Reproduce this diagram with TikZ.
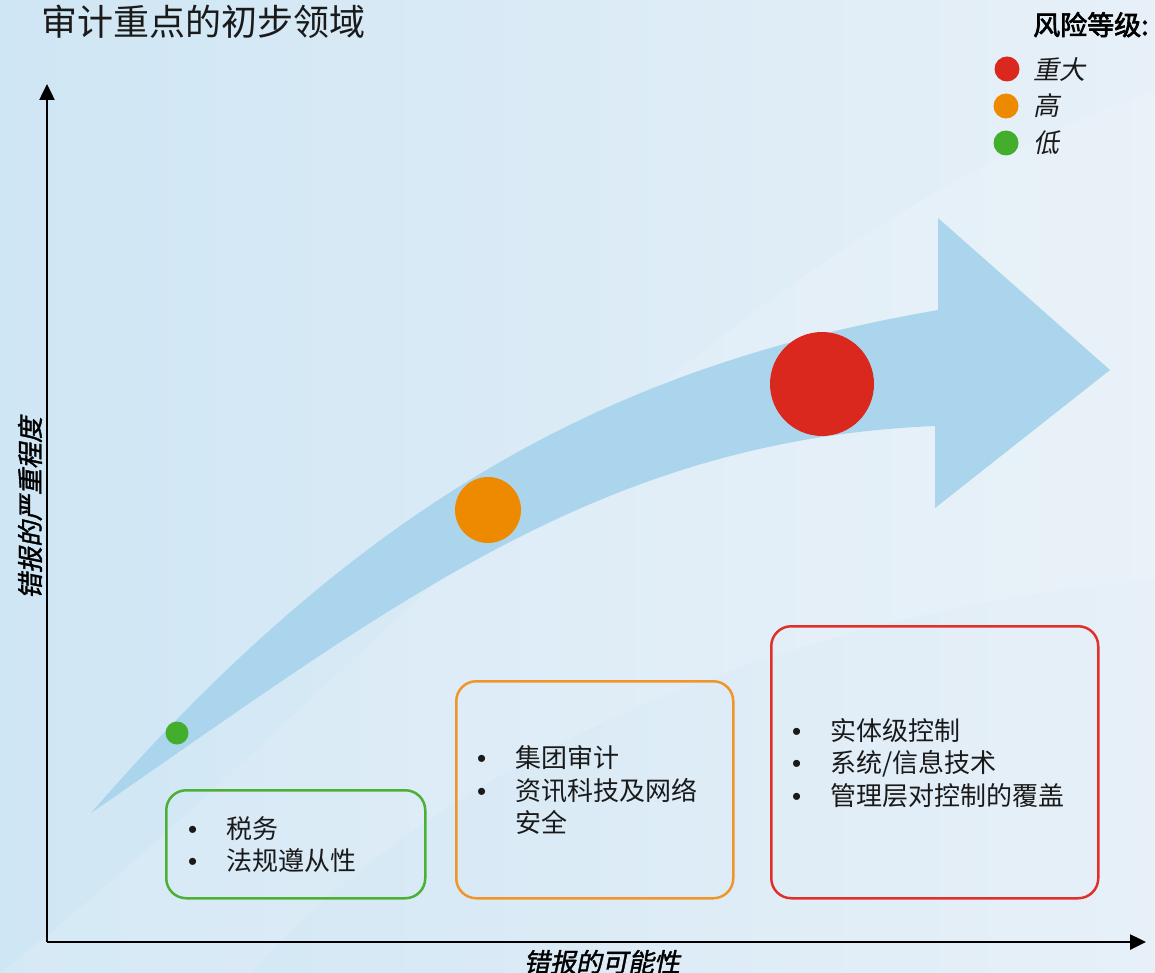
\documentclass[tikz,border=0pt]{standalone}
\usepackage{fontspec}
\setmainfont{Noto Sans CJK SC}
\newfontfamily\slantfont[FakeSlant=0.2]{Noto Sans CJK SC}
\newfontfamily\heavyfont[FakeBold=2.5]{Noto Sans CJK SC}
\newfontfamily\axisfont[FakeSlant=0.2,FakeBold=1.5]{Noto Sans CJK SC}
\newfontfamily\bulletfont{Liberation Sans}
\newcommand{\riskbullet}{\makebox[38pt][l]{\bulletfont •}}
\usetikzlibrary{arrows.meta}
\definecolor{bgleft}{RGB}{207,230,244}
\definecolor{bgright}{RGB}{231,240,248}
\definecolor{arrowblue}{RGB}{171,213,237}
\definecolor{riskred}{RGB}{218,40,30}
\definecolor{riskorange}{RGB}{238,138,0}
\definecolor{riskgreen}{RGB}{66,174,44}
\definecolor{boxred}{RGB}{224,48,42}
\definecolor{boxorange}{RGB}{240,150,40}
\definecolor{boxgreen}{RGB}{76,176,52}
\definecolor{textdark}{RGB}{26,26,26}
\tikzset{
  riskdot/.style={circle,fill=#1,inner sep=0pt},
  areabox/.style={draw=#1,line width=2.5pt,rounded corners=20pt,anchor=north west,inner sep=0pt},
  areaitem/.style={anchor=base west,inner sep=0pt,text=textdark,font=\fontsize{26}{32}\selectfont},
  keytext/.style={anchor=base west,inner sep=0pt,text=textdark,font=\slantfont\fontsize{26}{30}\selectfont},
  axislabel/.style={inner sep=0pt,text=black,font=\axisfont\fontsize{26}{30}\selectfont},
  axisline/.style={line width=2.5pt,-{Triangle[width=15pt,length=16pt]}},
}
\begin{document}
\begin{tikzpicture}[x=1pt,y=-1pt]
  \fill[left color=bgleft,right color=bgright] (0,0) rectangle (1155,973);
  \useasboundingbox (0,0) rectangle (1155,973);
  \fill[white,opacity=0.13] (0,973) .. controls (350,700) and (700,250) .. (1155,90)
    -- (1155,580) .. controls (900,600) and (500,700) .. (250,973) -- cycle;

  \fill[arrowblue] (91,813) .. controls (380,480) and (638,362) .. (938,310)
    -- (938,218) -- (1110,370) -- (935,508) -- (935,426)
    .. controls (600,440) and (391,606) .. (91,813) -- cycle;

  \node[riskdot=riskgreen,minimum size=23pt] (low) at (177,733) {};
  \node[riskdot=riskorange,minimum size=66pt] (mid) at (488,510) {};
  \node[riskdot=riskred,minimum size=104pt] (high) at (822,384) {};

  \node[anchor=base west,inner sep=0pt,text=textdark,font=\fontsize{36}{40}\selectfont] (title) at (41,36) {审计重点的初步领域};

  \node[anchor=base west,inner sep=0pt,text=black,font=\heavyfont\fontsize{27}{30}\selectfont] (key) at (1033,35) {风险等级:};
  \node[riskdot=riskred,minimum size=25pt] (keyhigh) at (1007,69) {};
  \node[riskdot=riskorange,minimum size=25pt] (keymid) at (1006,106) {};
  \node[riskdot=riskgreen,minimum size=25pt] (keylow) at (1006,143) {};
  \node[keytext] (keyhightxt) at (1033,80) {重大};
  \node[keytext] (keymidtxt) at (1033,116) {高};
  \node[keytext] (keylowtxt) at (1033,153) {低};

  \node[areabox=boxgreen,minimum width=259pt,minimum height=108pt] (lowbox) at (165,789) {};
  \node[areaitem] (low1) at (188,838) {\riskbullet 税务};
  \node[areaitem] (low2) at (188,870) {\riskbullet 法规遵从性};

  \node[areabox=boxorange,minimum width=277pt,minimum height=217pt] (midbox) at (455,680) {};
  \node[areaitem] (mid1) at (477,767) {\riskbullet 集团审计};
  \node[areaitem] (mid2) at (477,800) {\riskbullet 资讯科技及网络};
  \node[areaitem] (mid3) at (477,832) {\makebox[38pt][l]{}安全};

  \node[areabox=boxred,minimum width=327pt,minimum height=272pt] (highbox) at (770,625) {};
  \node[areaitem] (high1) at (792,740) {\riskbullet 实体级控制};
  \node[areaitem] (high2) at (792,772) {\riskbullet 系统/信息技术};
  \node[areaitem] (high3) at (792,805) {\riskbullet 管理层对控制的覆盖};

  \coordinate (origin) at (47,942);
  \coordinate (ytop) at (47,84);
  \coordinate (xend) at (1146,942);
  \draw[axisline] (origin) -- (ytop);
  \draw[axisline] (origin) -- (xend);
  \node[axislabel,rotate=90] (ylabel) at (30,508) {错报的严重程度};
  \node[axislabel] (xlabel) at (602,962) {错报的可能性};
\end{tikzpicture}
\end{document}
